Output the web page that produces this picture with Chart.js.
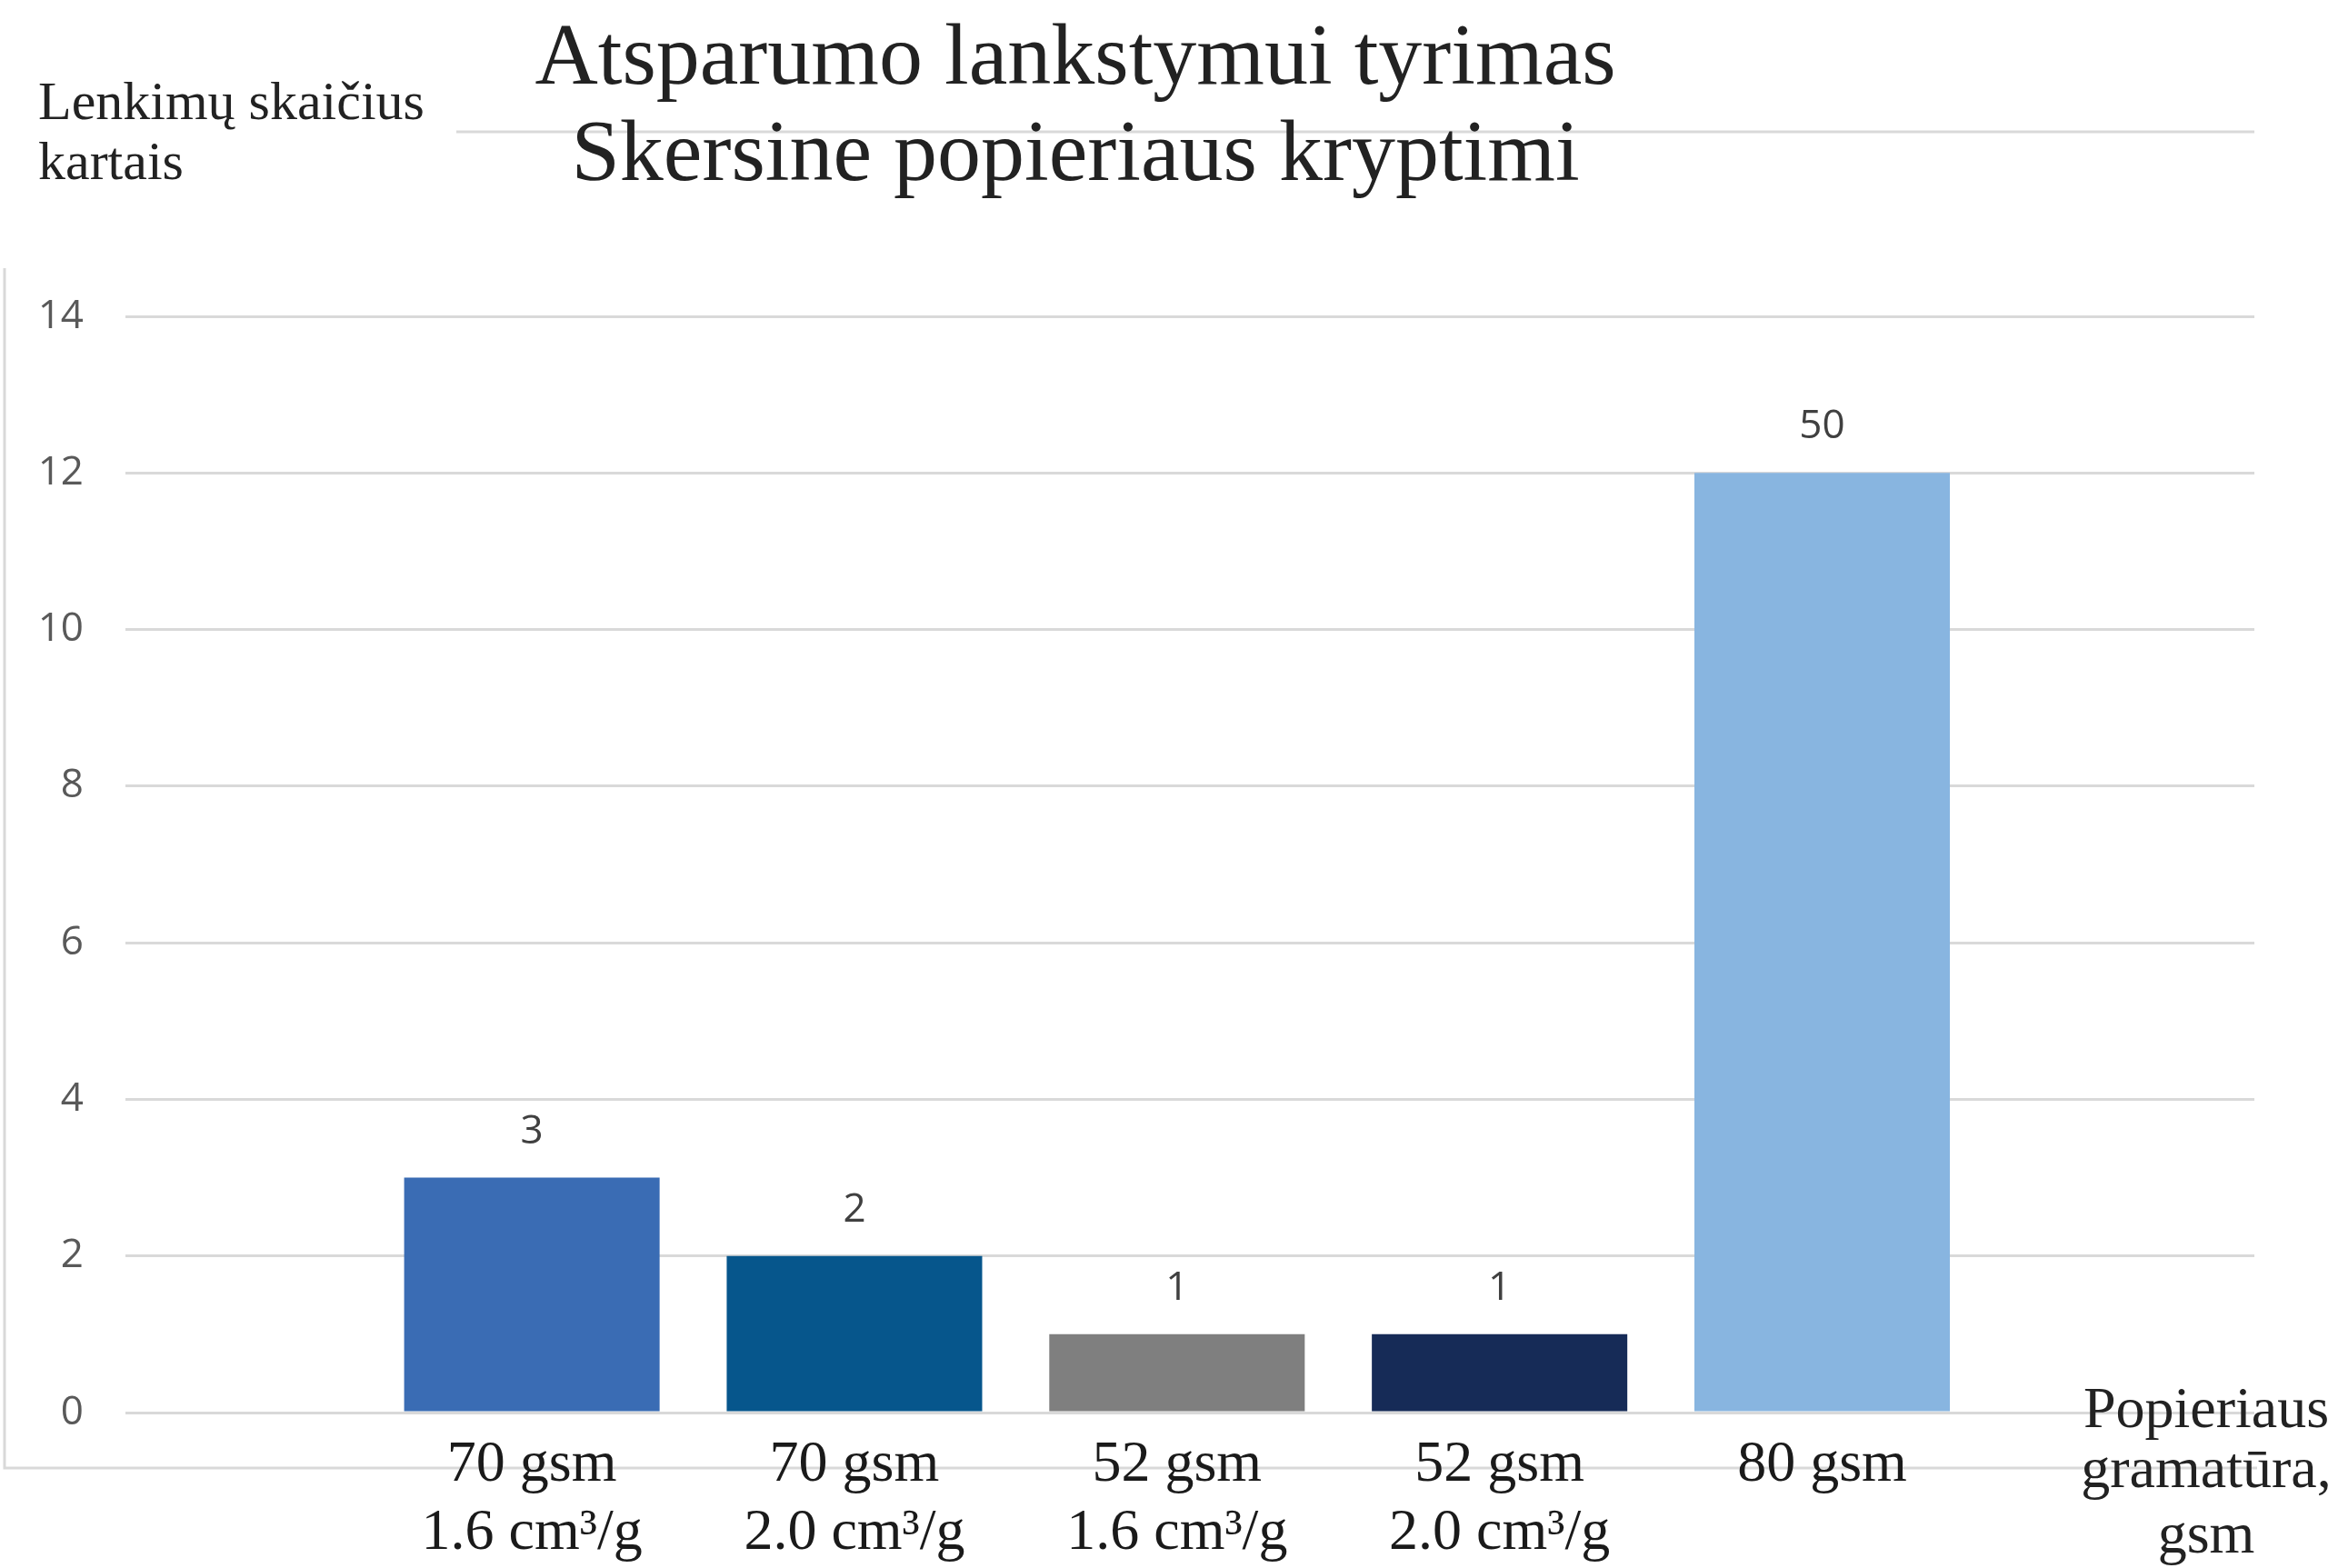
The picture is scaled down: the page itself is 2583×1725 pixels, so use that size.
<!DOCTYPE html>
<html lang="lt">
<head>
<meta charset="utf-8">
<title>Atsparumo lankstymui tyrimas</title>
<script src="https://cdn.jsdelivr.net/npm/chart.js@4.4.1/dist/chart.umd.min.js"></script>
<style>
  html, body { margin: 0; padding: 0; background: #ffffff; }
  #wrap { width: 2583px; height: 1725px; position: relative; }
</style>
</head>
<body>
<div id="wrap"><canvas id="chart"></canvas></div>
<script>
// Paper samples (grammage / bulk) and the number of folds each withstood
const paperSamples = [
  ['70 gsm', '1.6 cm\u00B3/g'],
  ['70 gsm', '2.0 cm\u00B3/g'],
  ['52 gsm', '1.6 cm\u00B3/g'],
  ['52 gsm', '2.0 cm\u00B3/g'],
  ['80 gsm']
];
const foldCounts = [3, 2, 1, 1, 50];
const barColors = ['#3A6CB4', '#06568C', '#7F7F7F', '#162B57', '#88B5E0'];

// Counts above this ceiling are drawn cut off at it so the tall bar does not
// flatten the others; the label above the bar still states the full count.
const drawnCeiling = 12;

const yTicks = [0, 2, 4, 6, 8, 10, 12, 14];

const titleLines = ['Atsparumo lankstymui tyrimas', 'Skersine popieriaus kryptimi'];
const yTitleLines = ['Lenkimų skaičius', 'kartais'];
const xTitleLines = ['Popieriaus', 'gramatūra,', 'gsm'];

const SERIF = '"Liberation Serif", "Times New Roman", serif';
const SANS = '"Open Sans", "Liberation Sans", sans-serif';
const GRID = '#D9D9D9';

// Outer frame pieces and the free-standing rule near the heading
const framePlugin = {
  id: 'frame',
  beforeDraw(chart) {
    const { ctx, chartArea } = chart;
    ctx.save();
    ctx.strokeStyle = GRID;
    ctx.lineWidth = 3;
    ctx.beginPath();
    ctx.moveTo(5, 295);
    ctx.lineTo(5, 1615);
    ctx.lineTo(chartArea.right + 3, 1615);
    ctx.stroke();
    ctx.beginPath();
    ctx.moveTo(502, 145);
    ctx.lineTo(chartArea.right, 145);
    ctx.stroke();
    ctx.restore();
  }
};

// Headings and axis titles
const textPlugin = {
  id: 'texts',
  afterDraw(chart) {
    const { ctx, chartArea } = chart;
    ctx.save();
    ctx.textBaseline = 'alphabetic';

    ctx.fillStyle = '#222222';
    ctx.font = '96px ' + SERIF;
    ctx.textAlign = 'center';
    titleLines.forEach((t, i) => ctx.fillText(t, 1183, 92 + i * 106));

    ctx.font = '60px ' + SERIF;
    ctx.textAlign = 'left';
    yTitleLines.forEach((t, i) => ctx.fillText(t, 42, 131 + i * 66));

    ctx.font = '64px ' + SERIF;
    ctx.textAlign = 'center';
    const xTitleBase = [1570, 1636, 1708];
    xTitleLines.forEach((t, i) => ctx.fillText(t, chartArea.right - 53, xTitleBase[i]));
    ctx.restore();
  }
};

// Count labels above each bar
const valueLabelPlugin = {
  id: 'valueLabels',
  afterDatasetsDraw(chart) {
    const { ctx } = chart;
    const meta = chart.getDatasetMeta(0);
    ctx.save();
    ctx.fillStyle = '#404040';
    ctx.font = '44px ' + SANS;
    ctx.textAlign = 'center';
    ctx.textBaseline = 'alphabetic';
    meta.data.forEach((bar, i) => {
      ctx.fillText(String(foldCounts[i]), bar.x, bar.y - 38);
    });
    ctx.restore();
  }
};

new Chart(document.getElementById('chart'), {
  type: 'bar',
  data: {
    datasets: [{
      data: foldCounts.map((v, i) => ({ x: i, y: Math.min(v, drawnCeiling) })),
      backgroundColor: barColors,
      borderWidth: 0,
      categoryPercentage: 1,
      barPercentage: 0.792
    }]
  },
  options: {
    responsive: true,
    maintainAspectRatio: false,
    animation: false,
    events: [],
    layout: { padding: { left: 0, right: 103, top: 348, bottom: 0 } },
    plugins: {
      legend: { display: false },
      title: { display: false },
      tooltip: { enabled: false }
    },
    scales: {
      x: {
        type: 'linear',
        min: -1.26,
        max: 5.34,
        offset: false,
        bounds: 'data',
        grid: { display: false, offset: false },
        border: { display: false },
        afterBuildTicks(scale) {
          scale.ticks = paperSamples.map((_, i) => ({ value: i }));
        },
        afterFit(scale) { scale.height = 171; },
        ticks: {
          autoSkip: false,
          maxRotation: 0,
          minRotation: 0,
          padding: 13,
          color: '#1A1A1A',
          font: { family: SERIF, size: 64, lineHeight: 75 / 64 },
          callback: (value) => paperSamples[value]
        }
      },
      y: {
        min: 0,
        max: 14,
        grid: { color: GRID, lineWidth: 3, drawTicks: false },
        border: { display: false },
        afterBuildTicks(scale) {
          scale.ticks = yTicks.map(v => ({ value: v }));
        },
        afterFit(scale) { scale.width = 138; },
        ticks: {
          padding: 46,
          color: '#595959',
          font: { family: SANS, size: 44 }
        }
      }
    }
  },
  plugins: [framePlugin, textPlugin, valueLabelPlugin]
});
</script>
</body>
</html>
